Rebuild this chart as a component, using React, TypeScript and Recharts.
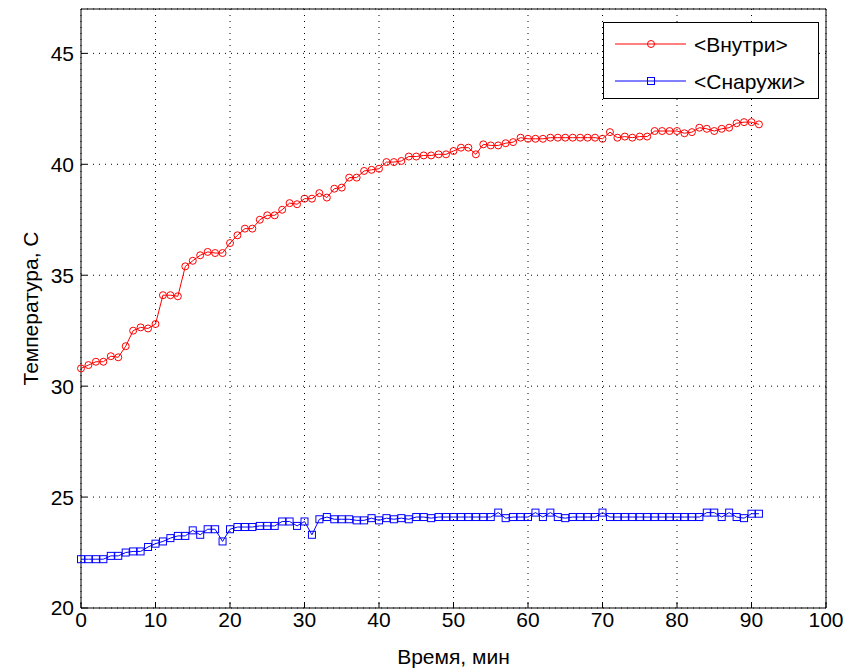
import { LineChart, Line, XAxis, YAxis, CartesianGrid, Legend } from 'recharts'

// time, minutes
const minutes = [
  0, 1, 2, 3, 4, 5, 6, 7, 8, 9, 10, 11, 12, 13, 14, 15, 16, 17, 18, 19,
  20, 21, 22, 23, 24, 25, 26, 27, 28, 29, 30, 31, 32, 33, 34, 35, 36, 37, 38, 39,
  40, 41, 42, 43, 44, 45, 46, 47, 48, 49, 50, 51, 52, 53, 54, 55, 56, 57, 58, 59,
  60, 61, 62, 63, 64, 65, 66, 67, 68, 69, 70, 71, 72, 73, 74, 75, 76, 77, 78, 79,
  80, 81, 82, 83, 84, 85, 86, 87, 88, 89, 90, 91,
]

// <Внутри>
const inside = [
  30.8, 30.95, 31.1, 31.1, 31.35, 31.3, 31.8, 32.5, 32.65, 32.6, 32.8, 34.1, 34.1, 34.05, 35.4, 35.65, 35.9, 36.05, 36.0, 36.0,
  36.45, 36.8, 37.1, 37.1, 37.5, 37.7, 37.7, 37.95, 38.25, 38.2, 38.45, 38.45, 38.7, 38.5, 38.9, 38.95, 39.4, 39.4, 39.7, 39.75,
  39.8, 40.1, 40.1, 40.15, 40.35, 40.35, 40.4, 40.4, 40.45, 40.45, 40.6, 40.75, 40.75, 40.45, 40.9, 40.85, 40.85, 40.95, 41.0, 41.2,
  41.15, 41.15, 41.15, 41.2, 41.2, 41.2, 41.2, 41.2, 41.2, 41.2, 41.15, 41.45, 41.2, 41.25, 41.2, 41.25, 41.25, 41.5, 41.5, 41.5,
  41.5, 41.4, 41.45, 41.65, 41.6, 41.5, 41.6, 41.65, 41.85, 41.9, 41.9, 41.8,
]

// <Снаружи>
const outside = [
  22.2, 22.2, 22.2, 22.2, 22.35, 22.35, 22.5, 22.55, 22.55, 22.75, 22.9, 23.0, 23.15, 23.25, 23.25, 23.5, 23.3, 23.55, 23.55, 23.0,
  23.55, 23.65, 23.65, 23.65, 23.7, 23.7, 23.7, 23.9, 23.9, 23.7, 23.9, 23.3, 24.0, 24.1, 24.0, 24.0, 24.0, 23.95, 23.95, 24.05,
  23.95, 24.05, 24.0, 24.05, 24.0, 24.1, 24.1, 24.05, 24.1, 24.1, 24.1, 24.1, 24.1, 24.1, 24.1, 24.1, 24.3, 24.05, 24.1, 24.1,
  24.1, 24.3, 24.1, 24.3, 24.1, 24.05, 24.1, 24.1, 24.1, 24.1, 24.3, 24.1, 24.1, 24.1, 24.1, 24.1, 24.1, 24.1, 24.1, 24.1,
  24.1, 24.1, 24.1, 24.1, 24.3, 24.3, 24.1, 24.3, 24.1, 24.05, 24.25, 24.25,
]

const xTicks = [0, 10, 20, 30, 40, 50, 60, 70, 80, 90, 100]
const yTicks = [20, 25, 30, 35, 40, 45]

const data = minutes.map((t, i) => ({ t, inside: inside[i], outside: outside[i] }))

const FONT = '"Liberation Sans", Arial, sans-serif'
const tickStyle = { fill: '#000', fontSize: 21, fontFamily: FONT }

const SquareDot = (props: any) => {
  const { cx, cy, index } = props
  if (cx == null || cy == null) return <g key={`sq-${index}`} />
  return <rect key={`sq-${index}`} x={cx - 3.5} y={cy - 3.5} width={7} height={7} fill="none" stroke="#0000ff" strokeWidth={1} />
}

const LegendBox = () => (
  <div style={{ border: '1px solid #000', background: '#fff', width: 216, height: 77, boxSizing: 'border-box', fontFamily: FONT, fontSize: 21 }}>
    <svg width={214} height={75}>
      <line x1={11} x2={82} y1={21} y2={21} stroke="#ff0000" />
      <circle cx={47} cy={21} r={3.5} fill="none" stroke="#ff0000" />
      <text x={90} y={29} fill="#000">{'<Внутри>'}</text>
      <line x1={11} x2={82} y1={58} y2={58} stroke="#0000ff" />
      <rect x={43.5} y={54.5} width={7} height={7} fill="none" stroke="#0000ff" />
      <text x={90} y={66} fill="#000">{'<Снаружи>'}</text>
    </svg>
  </div>
)

export default function App() {
  return (
    <div style={{ position: 'absolute', left: 0, top: 0, background: '#fff' }}>
      <LineChart width={847} height={668} data={data} margin={{ top: 8, right: 20, bottom: 0, left: 0 }}>
        <CartesianGrid stroke="#000" strokeDasharray="1 5" />
        <XAxis
          dataKey="t"
          type="number"
          domain={[0, 100]}
          ticks={xTicks}
          height={60}
          tick={tickStyle}
          tickSize={-6}
          tickMargin={10}
          stroke="#000"
          label={({ viewBox }: any) => (
            <text x={viewBox.x + viewBox.width / 2} y={viewBox.y + viewBox.height - 4} textAnchor="middle" fontSize={21} fontFamily={FONT} fill="#000">
              Время, мин
            </text>
          )}
        />
        <XAxis
          xAxisId="top"
          dataKey="t"
          orientation="top"
          type="number"
          domain={[0, 100]}
          ticks={xTicks}
          height={1}
          tick={false}
          tickSize={-6}
          stroke="#000"
        />
        <YAxis
          type="number"
          domain={[20, 47]}
          ticks={yTicks}
          width={81}
          tick={tickStyle}
          tickSize={-6}
          tickMargin={13}
          stroke="#000"
          label={({ viewBox }: any) => {
            const x = 30
            const y = viewBox.y + viewBox.height / 2
            return (
              <text x={x} y={y} transform={`rotate(-90 ${x} ${y})`} textAnchor="middle" dominantBaseline="central" fontSize={21} fontFamily={FONT} fill="#000">
                Температура, С
              </text>
            )
          }}
        />
        <YAxis
          yAxisId="right"
          orientation="right"
          type="number"
          domain={[20, 47]}
          ticks={yTicks}
          width={1}
          tick={false}
          tickSize={-6}
          stroke="#000"
        />
        <Legend
          layout="vertical"
          align="center"
          verticalAlign="middle"
          wrapperStyle={{ left: 603, top: 22, width: 216, height: 77 }}
          content={() => <LegendBox />}
        />
        {/* invisible series so the box axes (top / right) get drawn */}
        <Line
          xAxisId="top"
          yAxisId="right"
          dataKey="inside"
          stroke="none"
          dot={false}
          activeDot={false}
          legendType="none"
          isAnimationActive={false}
        />
        <Line
          type="linear"
          dataKey="inside"
          name="<Внутри>"
          stroke="#ff0000"
          strokeWidth={1}
          dot={{ r: 3.5, fill: 'none', stroke: '#ff0000', strokeWidth: 1 }}
          isAnimationActive={false}
        />
        <Line
          type="linear"
          dataKey="outside"
          name="<Снаружи>"
          stroke="#0000ff"
          strokeWidth={1}
          dot={SquareDot}
          isAnimationActive={false}
        />
      </LineChart>
    </div>
  )
}
